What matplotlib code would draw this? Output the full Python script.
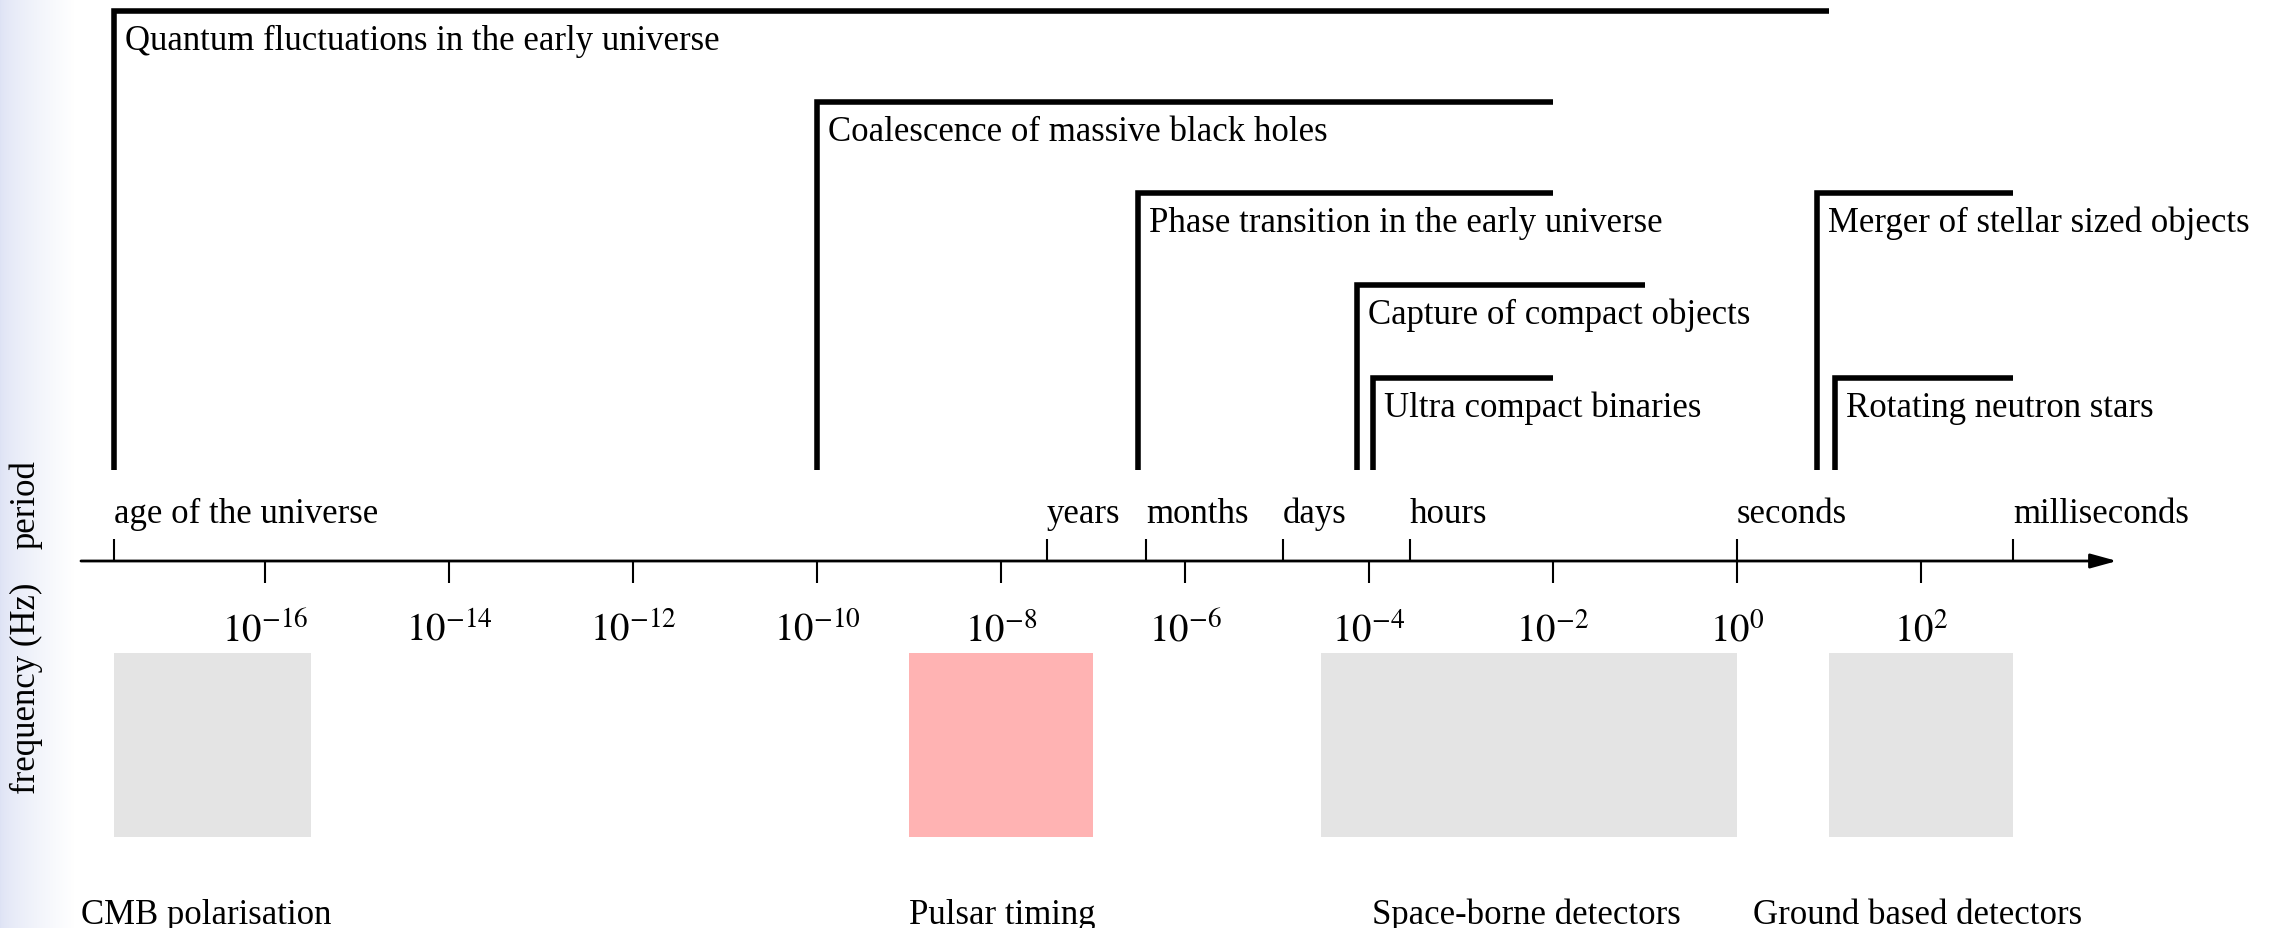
import matplotlib.pyplot as plt
import numpy as np

# frequencies in Hz
axis_start = 1e-18
axis_end = 10**4.13

period_labels = ['age of the universe', 'years', 'months', 'days', 'hours', 'seconds', 'milliseconds']
period_freqs = [1/4.35e17, 1/3.156e7, 1/2.63e6, 1/86400., 1/3600., 1.0, 1000.0]

freq_exps = [-16, -14, -12, -10, -8, -6, -4, -2, 0, 2]

# sources: name, lowest freq, highest freq
src_names = ['Quantum fluctuations in the early universe',
             'Coalescence of massive black holes',
             'Phase transition in the early universe',
             'Capture of compact objects',
             'Ultra compact binaries',
             'Merger of stellar sized objects',
             'Rotating neutron stars']
src_lo = [1/4.35e17, 1e-10, 3.1e-7, 7.4e-5, 1.1e-4, 7.4, 11.5]
src_hi = [10.0, 1e-2, 1e-2, 1e-1, 1e-2, 1e3, 1e3]
src_top = [12, 103, 194, 286, 379, 194, 379]   # pixel row of bracket top

# detector bands
det_names = ['CMB polarisation', 'Pulsar timing', 'Space-borne detectors', 'Ground based detectors']
det_lo = [1/4.35e17, 1e-9, 3e-5, 10.0]
det_hi = [3.2e-16, 1e-7, 1.0, 1e3]
det_label_f = [1e-18, 1e-9, 1.07e-4, 1.5]
det_colors = ['#e4e4e4', '#ffb3b3', '#e4e4e4', '#e4e4e4']

plt.rcParams['font.family'] = ['Liberation Serif', 'DejaVu Serif']
plt.rcParams['mathtext.fontset'] = 'stix'
fs = 25

fig = plt.figure(figsize=(22.74, 9.29), dpi=100)

# bluish slide background on left edge
bg = fig.add_axes([0, 0, 75/2274., 1], zorder=0)
t = np.linspace(0, 1, 75) ** 0.7
c0 = np.array([0.87, 0.89, 0.96])
row = c0[None, :] * (1 - t[:, None]) + t[:, None]
bg.imshow(np.tile(row[None, :, :], (10, 1, 1)), aspect='auto', extent=[0, 1, 0, 1])
bg.axis('off')

ax = fig.add_axes([0, 0, 1, 1], zorder=1)
ax.set_xscale('log')
ax.set_xlim(10**-18.88, 10**5.837)
ax.set_ylim(929, 0)
ax.axis('off')

# main axis with arrow
ax.annotate('', xy=(axis_end, 562), xytext=(axis_start, 562),
            arrowprops=dict(arrowstyle='-|>,head_length=0.8,head_width=0.22', lw=2.0,
                            color='k', shrinkA=0, shrinkB=0, mutation_scale=20))

ax.vlines(period_freqs, 540, 562, lw=1.5, color='k')
for f, lab in zip(period_freqs, period_labels):
    ax.text(f, 523, lab, ha='left', va='baseline', fontsize=fs)

freq_ticks = [10.0**e for e in freq_exps]
ax.vlines(freq_ticks, 562, 584, lw=1.5, color='k')
for f, e in zip(freq_ticks, freq_exps):
    ax.text(f, 641, r'$10^{%d}$' % e, ha='center', va='baseline', fontsize=28)

for name, lo, hi, top in zip(src_names, src_lo, src_hi, src_top):
    ax.plot([lo, lo, hi], [471, top, top], color='k', lw=4,
            solid_joinstyle='miter', solid_capstyle='butt')
    ax.annotate(name, xy=(lo, top + 38), xytext=(8, 0), textcoords='offset points',
                ha='left', va='baseline', fontsize=fs)

for name, lo, hi, lf, c in zip(det_names, det_lo, det_hi, det_label_f, det_colors):
    ax.fill_between([lo, hi], 654, 838, color=c, lw=0)
    ax.text(lf, 924, name, ha='left', va='baseline', fontsize=fs)

fig.text(26/2274., 1 - 505/929., 'period', rotation=90, ha='center', va='center', fontsize=fs)
fig.text(26/2274., 1 - 688/929., 'frequency (Hz)', rotation=90, ha='center', va='center', fontsize=fs)

fig.savefig('out.png', dpi=100)
